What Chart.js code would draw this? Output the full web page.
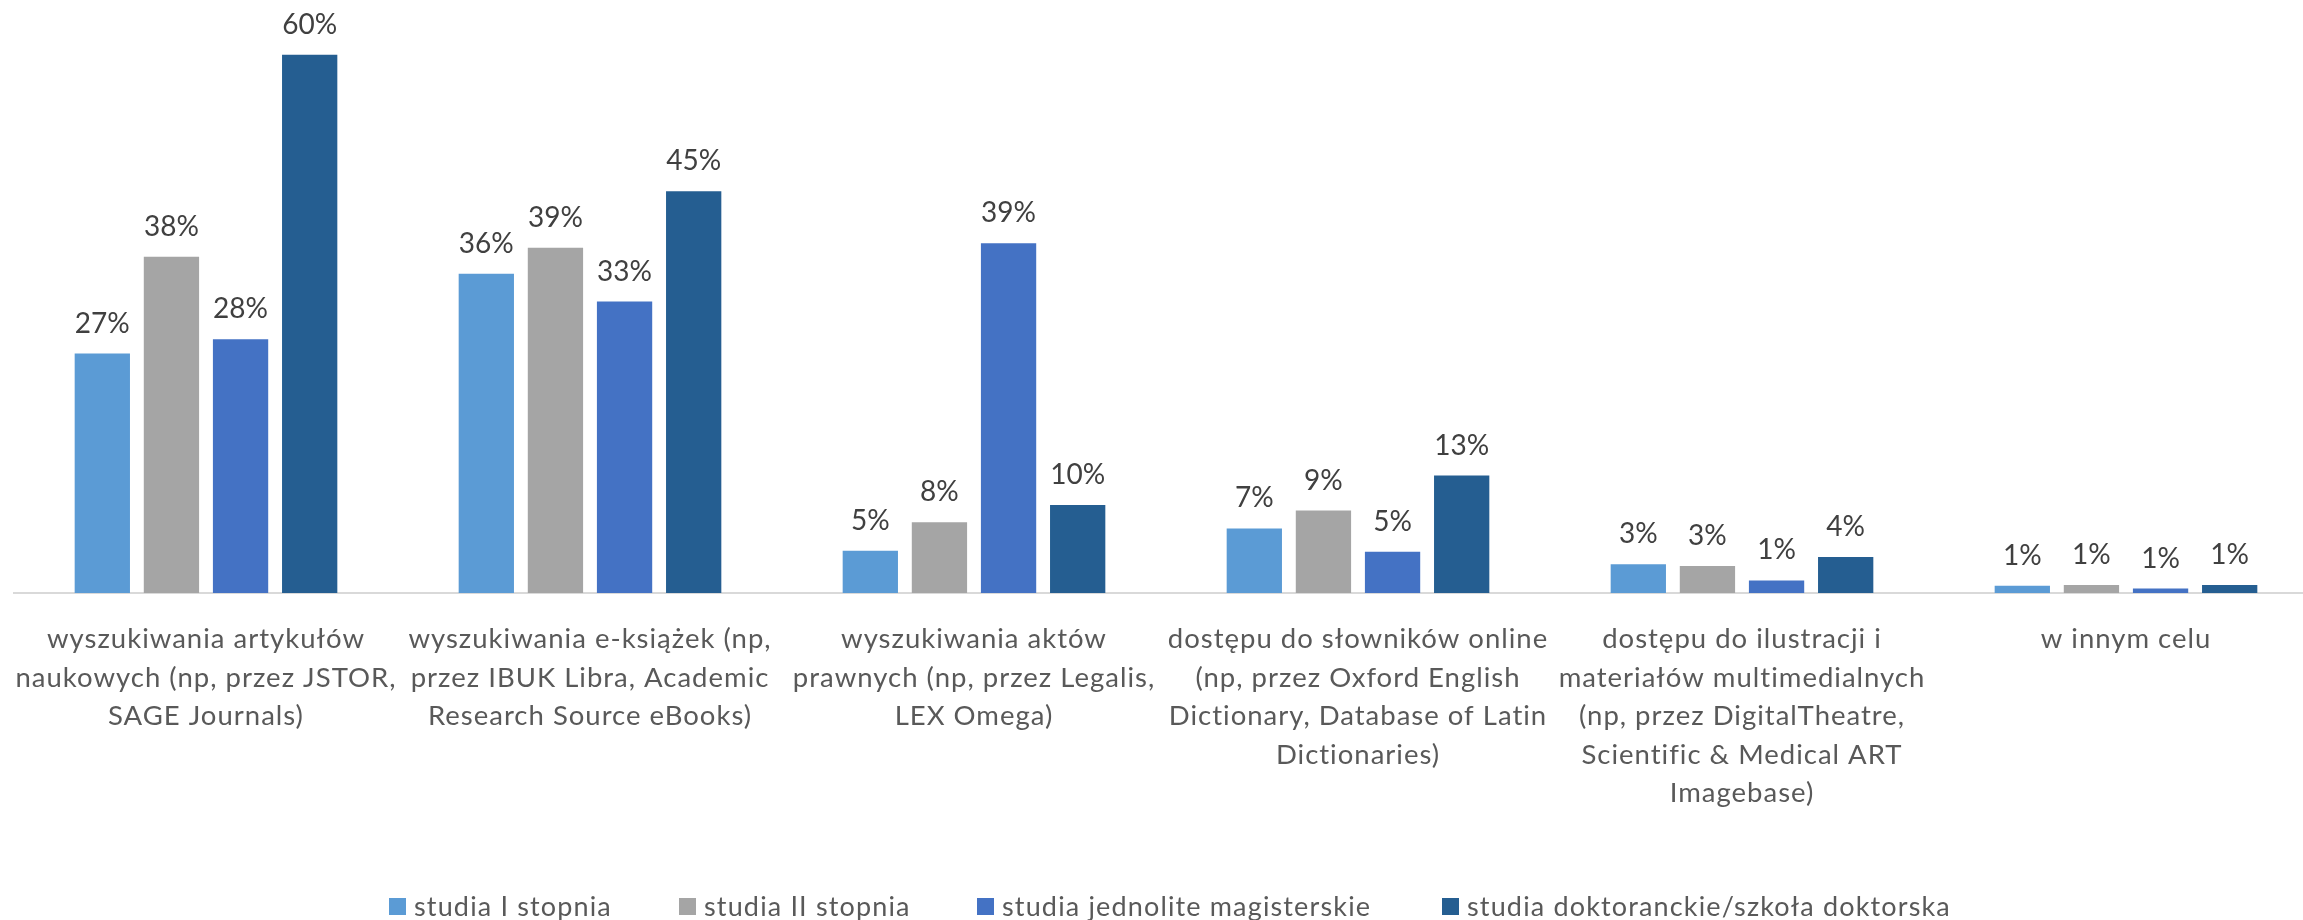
<!DOCTYPE html>
<html>
<head>
<meta charset="utf-8">
<script src="https://cdn.jsdelivr.net/npm/chart.js@4/dist/chart.umd.min.js"></script>
<style>
  html, body { margin: 0; padding: 0; background: #fff; overflow: hidden; }
  #wrap { position: relative; width: 2318px; height: 920px; }
  #legend {
    position: absolute; left: 0; top: 891px; width: 2303px; height: 30px;
    font-family: Lato, "Noto Sans", sans-serif; font-size: 27px; line-height: 30px;
    letter-spacing: 1.15px; color: #595959; white-space: nowrap;
  }
  #legend .item { position: absolute; top: 0; display: flex; align-items: center; }
  #legend .box { width: 17px; height: 17px; margin-right: 8px; }
</style>
</head>
<body>
<div id="wrap">
  <canvas id="myBarChart"></canvas>
  <div id="legend"></div>
</div>
<script>
var categories = [
    ["wyszukiwania artykułów", "naukowych (np, przez JSTOR,", "SAGE Journals)"],
    ["wyszukiwania e-książek (np,", "przez IBUK Libra, Academic", "Research Source eBooks)"],
    ["wyszukiwania aktów", "prawnych (np, przez Legalis,", "LEX Omega)"],
    ["dostępu do słowników online", "(np, przez Oxford English", "Dictionary, Database of Latin", "Dictionaries)"],
    ["dostępu do ilustracji i", "materiałów multimedialnych", "(np, przez DigitalTheatre,", "Scientific & Medical ART", "Imagebase)"],
    ["w innym celu"]
];

var seriesNames = [
    "studia I stopnia",
    "studia II stopnia",
    "studia jednolite magisterskie",
    "studia doktoranckie/szkoła doktorska"
];

var studiaI = [26.7, 35.6, 4.7, 7.2, 3.2, 0.8];
var studiaII = [37.5, 38.5, 7.9, 9.2, 3.0, 0.9];
var jednolite = [28.3, 32.5, 39.0, 4.6, 1.4, 0.5];
var doktoranckie = [60.0, 44.8, 9.8, 13.1, 4.0, 0.9];

var colors = ["#5B9BD5", "#A5A5A5", "#4472C4", "#255E91"];

// odstęp liter, żeby Lato zajmowało tyle miejsca co Calibri
var spacing = {
    id: "spacing",
    beforeDraw: function(chart) {
        chart.ctx.letterSpacing = "1px";
    }
};

var valueLabels = {
    id: "valueLabels",
    afterDatasetsDraw: function(chart) {
        var ctx = chart.ctx;
        ctx.save();
        ctx.letterSpacing = "0px";
        ctx.font = "28px Lato, sans-serif";
        ctx.fillStyle = "#404040";
        ctx.textAlign = "center";
        ctx.textBaseline = "middle";
        chart.data.datasets.forEach(function(ds, i) {
            chart.getDatasetMeta(i).data.forEach(function(bar, j) {
                ctx.fillText(Math.round(ds.data[j]) + "%", bar.x, bar.y - 30);
            });
        });
        ctx.restore();
    }
};

var ctx = document.getElementById("myBarChart");

new Chart(ctx, {
    type: 'bar',
    data: {
        labels: categories,
        datasets: [studiaI, studiaII, jednolite, doktoranckie].map(function(d, i) {
            return {
                label: seriesNames[i],
                data: d,
                backgroundColor: colors[i],
                categoryPercentage: 0.72,
                barPercentage: 0.8
            };
        })
    },
    options: {
        responsive: true,
        maintainAspectRatio: false,
        animation: false,
        layout: {
            padding: { left: 14, right: 0, top: 10, bottom: 0 }
        },
        scales: {
            x: {
                grid: { display: false, drawTicks: false },
                border: { color: "#D9D9D9", width: 2 },
                ticks: {
                    autoSkip: false,
                    maxRotation: 0,
                    padding: 27,
                    color: "#595959",
                    font: { family: "Lato", size: 27.5, lineHeight: 1.4 }
                },
                afterFit: function(scale) { scale.height = 327; }
            },
            y: {
                display: false,
                min: 0,
                max: 65
            }
        },
        plugins: {
            legend: { display: false },
            tooltip: { enabled: false }
        }
    },
    plugins: [spacing, valueLabels]
});

// legenda
var legendLeft = [389, 679, 977, 1442];
var legend = document.getElementById("legend");
seriesNames.forEach(function(name, i) {
    var item = document.createElement("div");
    item.className = "item";
    item.style.left = legendLeft[i] + "px";
    item.innerHTML = '<span class="box" style="background:' + colors[i] + '"></span><span>' + name + '</span>';
    legend.appendChild(item);
});
</script>
</body>
</html>
